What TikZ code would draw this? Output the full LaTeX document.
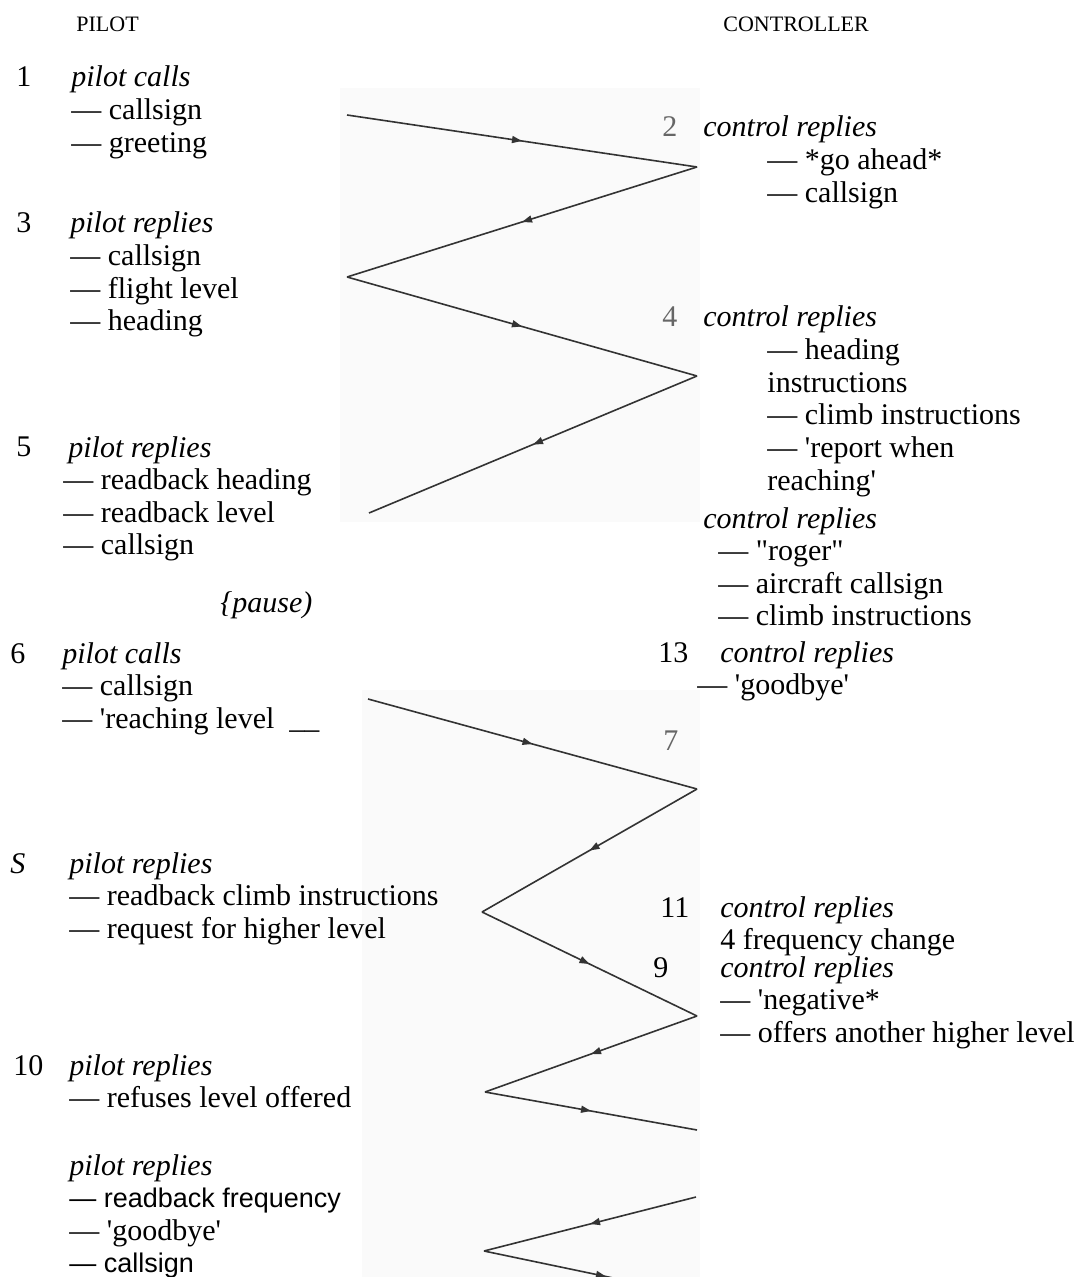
\documentclass[tikz,border=0pt]{standalone}
\usepackage{fontspec}
\newfontfamily\tms{Liberation Serif}
\newfontfamily\arl{Liberation Sans}
\usepackage{tikz}
\usetikzlibrary{arrows.meta, decorations.markings}
\newcommand{\act}[1]{\textit{#1}}
\newcommand{\sansline}[1]{{\arl\fontsize{13.5}{16.3}\selectfont #1}}
\tikzset{
  head/.style ={anchor=base west, inner sep=0pt, font=\tms\fontsize{11}{12}\selectfont},
  num/.style  ={anchor=base west, inner sep=0pt, font=\tms\fontsize{15}{16.3}\selectfont},
  faint/.style={num, text=black!60},
  turn/.style ={anchor=base west, inner sep=0pt, align=left,
                font=\tms\fontsize{15}{16.3}\selectfont},
  msg/.style  ={draw=black!80, line width=0.8pt, postaction={decorate},
                decoration={markings, mark=at position 0.5 with
                  {\arrow{Triangle[length=5pt,width=3.5pt]}}}},
  scan/.style ={fill=black!2, draw=none},
}

\begin{document}
\begin{tikzpicture}[x=0.5pt, y=-0.5pt]
  \useasboundingbox (0,0) rectangle (1074,1277);
  \clip (0,0) rectangle (1074,1277);
  \fill[scan] (340,88) rectangle (700,522);
  \fill[scan] (362,690) rectangle (700,1277);

  \node[head] (pilot) at (76,32) {PILOT};
  \node[head] (ctrl)  at (723,32) {CONTROLLER};

  % pilot side (turn nodes sit on the baseline of their last line)
  \node[num]  (n1) at (16,87) {1};
  \node[turn] (t1) at (71,152.2) {\act{pilot calls}\\— callsign\\— greeting};
  \node[num]  (n3) at (16,233) {3};
  \node[turn] (t3) at (70,330.8) {\act{pilot replies}\\— callsign\\— flight level\\— heading};
  \node[num]  (n5) at (16,457) {5};
  \node[turn] (t5) at (63,554.8) {\hspace*{2.5pt}\act{pilot replies}\\— readback heading\\— readback level\\— callsign};
  \node[turn] (pause) at (220,612) {\act{\{pause)}};
  \node[num]  (n6) at (10,663) {6};
  \node[turn] (t6) at (62,728.2) {\act{pilot calls}\\— callsign\\— 'reaching level \ \_\_};
  \node[num, font=\tms\itshape\fontsize{15}{16.3}\selectfont] (n8) at (10,873) {S};
  \node[turn] (t8) at (69,938.2) {\act{pilot replies}\\— readback climb instructions\\— request for higher level};
  \node[num]  (n10) at (13,1075) {10};
  \node[turn] (t10) at (69,1107.6) {\act{pilot replies}\\— refuses level offered};
  \node[turn] (t12) at (69,1272.8) {\act{pilot replies}\\\sansline{— readback frequency}\\— 'goodbye'\\\sansline{— callsign}};

  % controller side
  \node[faint] (n2) at (662,137) {2};
  \node[turn]  (t2) at (703,202.2) {\act{control replies}\\\hspace*{32pt}— *go ahead*\\\hspace*{32pt}— callsign};
  \node[faint] (n4) at (662,327) {4};
  \node[turn]  (t4) at (703,490) {\act{control replies}\\\hspace*{32pt}— heading\\\hspace*{32pt}instructions\\\hspace*{32pt}— climb instructions\\\hspace*{32pt}— 'report when\\\hspace*{32pt}reaching'};
  \node[turn]  (t4b) at (703,625.8) {\act{control replies}\\\hspace*{7.5pt}— "roger"\\\hspace*{7.5pt}— aircraft callsign\\\hspace*{7.5pt}— climb instructions};
  \node[num]   (n13) at (658,662) {13};
  \node[turn]  (t13) at (697,694.6) {\hspace*{11.5pt}\act{control replies}\\— 'goodbye'};
  \node[faint] (n7) at (663,750) {7};
  \node[num]   (n11) at (660,917) {11};
  \node[turn]  (t11) at (720,949.6) {\act{control replies}\\4 frequency change};
  \node[num]   (n9) at (653,977) {9};
  \node[turn]  (t9) at (720,1042.2) {\act{control replies}\\— 'negative*\\— offers another higher level};

  % message zigzags
  \coordinate (v1) at (347,115);
  \coordinate (v2) at (697,167);
  \coordinate (v3) at (347,277);
  \coordinate (v4) at (697,376);
  \coordinate (v5) at (369,513);
  \coordinate (w1) at (368,699);
  \coordinate (w2) at (697,789);
  \coordinate (w3) at (482,912);
  \coordinate (w4) at (697,1016);
  \coordinate (w5) at (485,1092);
  \coordinate (w6) at (697,1130);
  \coordinate (u1) at (696,1197);
  \coordinate (u2) at (484,1251);
  \coordinate (u3) at (728,1302);
  \draw[msg] (v1) -- (v2);
  \draw[msg] (v2) -- (v3);
  \draw[msg] (v3) -- (v4);
  \draw[msg] (v4) -- (v5);
  \draw[msg] (w1) -- (w2);
  \draw[msg] (w2) -- (w3);
  \draw[msg] (w3) -- (w4);
  \draw[msg] (w4) -- (w5);
  \draw[msg] (w5) -- (w6);
  \draw[msg] (u1) -- (u2);
  \draw[msg] (u2) -- (u3);
\end{tikzpicture}
\end{document}
